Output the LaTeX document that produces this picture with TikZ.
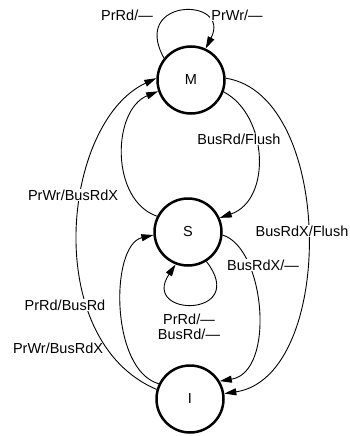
\documentclass[tikz,border=0pt]{standalone}
\usepackage{fontspec}
\setmainfont{Liberation Sans}
\usepackage{tikz}
\usetikzlibrary{arrows.meta,calc}
\pgfdeclarelayer{bg}
\pgfsetlayers{bg,main}

\begin{document}
\begin{tikzpicture}[x=1pt,y=-1pt,
    state/.style={draw,circle,line width=2.5pt,minimum size=67pt,inner sep=0pt,
      font=\fontsize{14.5}{15}\selectfont},
    lbl/.style={fill=white,inner sep=1pt,font=\fontsize{14.5}{15}\selectfont},
    arc/.style={line width=0.9pt,-{Triangle[length=12pt,width=7pt]}}]
    \useasboundingbox (0,0) rectangle (350,436);

    \node [state] (M) at (191,80) { M };
    \node [state] (S) at (188,232) { S };
    \node [state] (I) at (190,399) { I };
    \node [lbl] (prrdM) at (127,15) {PrRd/—};
    \node [lbl] (prwrM) at (237,15) {PrWr/—};
    \node [lbl] (busrdM) at (239,139) {BusRd/Flush};
    \node [lbl] (prwrS) at (73,195) {PrWr/BusRdX};
    \node [lbl] (busrdxM) at (302,231) {BusRdX/Flush};
    \node [lbl] (busrdxS) at (263,265) {BusRdX/—};
    \node [lbl] (prrdI) at (65,305) {PrRd/BusRd};
    \node [lbl,fill=none] (prwrI) at (58,348) {PrWr/BusRdX};
    \node [lbl,align=center] (selfS) at (189,327) {PrRd/—\\BusRd/—};
    \begin{pgfonlayer}{bg}    % arcs under the labels
        \draw [arc] (M.141) .. controls (130,-3) and (232,-3) .. (M.65);
        \draw [arc] (I.164) .. controls (40,340) and (62,122) .. (M.177);
        \draw [arc] (S.153) .. controls (110,200) and (112,110) .. (M.199);
        \draw [arc] (M.340) .. controls (268,115) and (272,200) .. (S.24);
        \draw [arc] (M.3) .. controls (335,95) and (336,377) .. (I.9);
        \draw [arc] (S.355) .. controls (265,248) and (276,372) .. (I.31);
        \draw [arc] (I.154) .. controls (110,370) and (110,245) .. (S.185);
        \draw [arc] (S.302) .. controls (250,318) and (140,318) .. (S.249);
    \end{pgfonlayer}
\end{tikzpicture}
\end{document}
